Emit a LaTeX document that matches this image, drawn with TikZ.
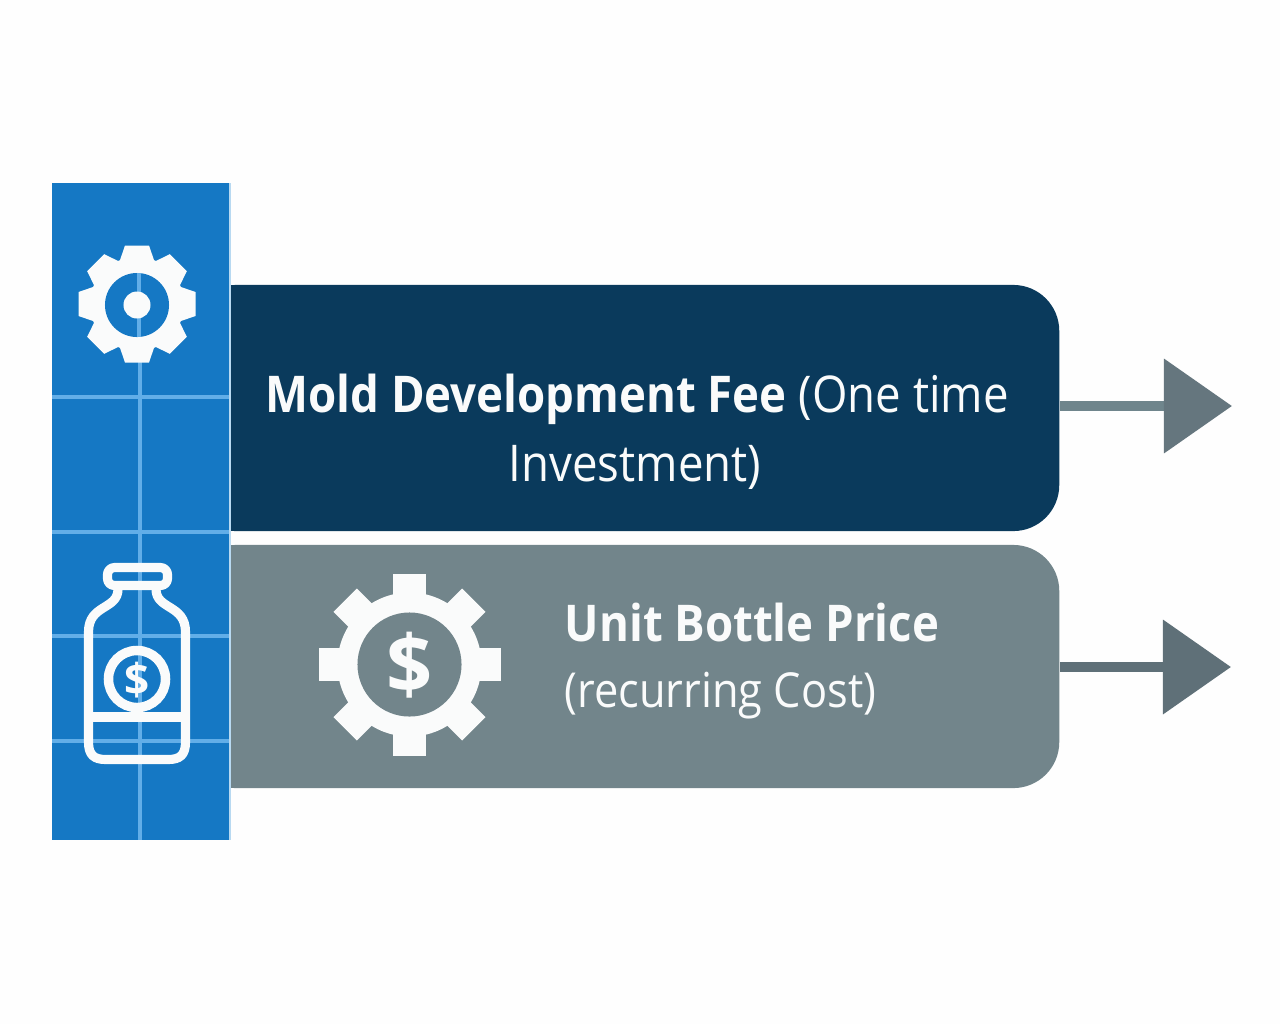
\documentclass[tikz,border=0pt]{standalone}
\usepackage{fontspec}
\setmainfont{Open Sans}[FakeStretch=0.9]
\newfontfamily\iconfont{Open Sans}
\usetikzlibrary{arrows.meta, positioning}

\definecolor{navy}{HTML}{0A3A5C}
\definecolor{slate}{HTML}{72858B}
\definecolor{column}{HTML}{1578C4}
\definecolor{gridline}{HTML}{62AEE8}
\definecolor{edge}{HTML}{B8D9F1}
\definecolor{shaft}{HTML}{6F858C}
\definecolor{shaftdark}{HTML}{5F7078}
\definecolor{paper}{HTML}{FEFEFE}
\definecolor{ink}{HTML}{FAFBFB}

\tikzset{
  panel/.style={minimum width=8.69cm, inner sep=0pt, rounded corners=0.46cm},
  label/.style={text=ink, font=\fontsize{14.4}{19}\selectfont, inner sep=0pt, anchor=base},
  tip/.style={line width=3.1pt, -{Triangle[length=0.68cm, width=0.92cm, color=#1]}},
  grid/.style={gridline, line width=1pt},
  bottleline/.style={ink, line width=2.6pt, line join=round},
}

% teeth: centre x, centre y, body radius, outer radius, half width at base, half width at tip
\newcommand{\gearbody}[6]{%
  \fill [ink] (#1,#2) circle [radius=#3*0.01cm];
  \foreach \a in {0,45,...,315} {
    \fill [ink, shift={(#1,#2)}, rotate=\a]
      (#3-6,-#5) -- (#4,-#6) -- (#4,#6) -- (#3-6,#5) -- cycle;
  }
}

\begin{document}
\begin{tikzpicture}[x=0.01cm, y=-0.01cm]
  \useasboundingbox [fill=paper] (0,0) rectangle (1280,1024);

  % panels, their left ends run under the column
  \node (moldPanel) at (624.5,408) [panel, fill=navy, minimum height=2.46cm] {};
  \node (unitPanel) at (624.5,666.5) [panel, fill=slate, minimum height=2.43cm] {};

  % column and its grid
  \fill [column] (52,183) rectangle (229,840);
  \draw [edge, line width=0.6pt] (230,183) -- (230,840);
  \foreach \y in {397,532,636,741} {
    \draw [grid] (52,\y) -- (229,\y);
  }
  \draw [grid] (140,355) -- (140,840);

  % small gear
  \gearbody{137}{304}{47}{58.5}{18}{12}
  \fill [column] (137,305) circle [radius=0.32cm];
  \draw [grid] (139,273) -- (139,337);
  \fill [ink] (137,305) circle [radius=0.135cm];

  % bottle
  \draw [bottleline, rounded corners=0.07cm] (107.5,567.5) rectangle (167.5,585.5);
  \draw [bottleline] (118,589) .. controls (118,610) and (88.5,604) .. (88.5,632)
    -- (88.5,742) .. controls (88.5,755) and (94,759.5) .. (106,759.5)
    -- (168,759.5) .. controls (180,759.5) and (185.5,755) .. (185.5,742)
    -- (185.5,632) .. controls (185.5,604) and (156,610) .. (156,589);
  \draw [bottleline] (88.5,717) -- (185.5,717);
  \draw [ink, line width=2.7pt] (137,679) circle [radius=0.285cm];
  \node (bottleDollar) at (137,680) [text=ink, inner sep=0pt, font=\iconfont\fontsize{12.5}{13}\bfseries\selectfont] {\$};

  % big gear
  \gearbody{409.5}{664.5}{72}{91}{16.5}{16.5}
  \fill [slate] (409.5,664.5) circle [radius=0.52cm];
  \node (gearDollar) at (410,665) [text=ink, inner sep=0pt, font=\iconfont\fontsize{23}{24}\bfseries\selectfont] {\$};

  % texts
  \node (moldLine) at (637,412) [label] {\textbf{Mold Development Fee} (One time};
  \node (moldNext) at (635,481) [label] {Investment)};
  \node (unitLine) at (564,641) [label, anchor=base west] {\textbf{Unit Bottle Price}};
  \node (unitNext) at (564,707) [label, anchor=base west, font=\fontsize{13.7}{19}\selectfont] {(recurring Cost)};

  % arrows
  \coordinate (moldEnd) at (1232,406);
  \coordinate (unitEnd) at (1231,667);
  \draw [tip=shaftdark!70!slate, shaft] (moldPanel.east |- moldEnd) -- (moldEnd);
  \draw [tip=shaftdark, shaftdark] (unitPanel.east |- unitEnd) -- (unitEnd);
\end{tikzpicture}
\end{document}
